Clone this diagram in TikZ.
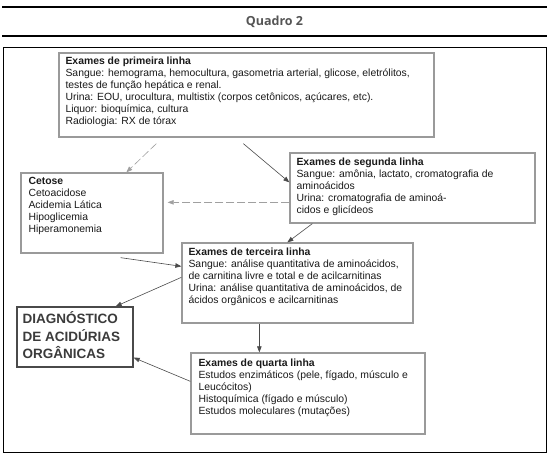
\documentclass[tikz,border=0pt]{standalone}
\usepackage{fontspec}
\setmainfont{Liberation Sans}
\newfontfamily\headfont{Open Sans}
\usepackage{tikz}
\usetikzlibrary{arrows.meta, positioning, calc}
\definecolor{darktext}{HTML}{1A1A1A}
\definecolor{headgray}{HTML}{555555}
\definecolor{boxline}{HTML}{9A9A9A}
\definecolor{arrowgray}{HTML}{4A4A4A}
\definecolor{dashgray}{HTML}{A0A0A0}

\begin{document}
\begin{tikzpicture}[x=1pt, y=-1pt,
    box/.style={draw=boxline, line width=1.3pt, fill=white, minimum width=#1, inner sep=0pt},
    txt/.style={anchor=north west, inner sep=0pt, align=left, text=darktext, font=\fontsize{10.4}{12}\selectfont},
    arr/.style={-{Triangle[length=6pt, width=4.5pt]}, line width=0.6pt, arrowgray},
    darr/.style={-{Triangle[length=6pt, width=4.5pt]}, line width=0.6pt, dashgray, dash pattern=on 8pt off 3pt}
]
    \useasboundingbox (0,0) rectangle (549,458);
    % header
    \draw[line width=1.8pt] (2,7) -- (547,7);
    \node[text=headgray, font=\headfont\bfseries\fontsize{12.5}{14}\selectfont] (head) at (274.5,22) {Quadro 2};
    \draw[line width=1.8pt] (2,36) -- (547,36);
    \draw[line width=1pt] (3,47) rectangle (546,452);

    % boxes
    \node[box=375pt, minimum height=84pt] (prim) at (246.5,95) {};
    \node[txt] (primtxt) at ([shift={(7pt,-4pt)}]prim.north west)
        {\textbf{Exames de primeira linha}\\
         Sangue: hemograma, hemocultura, gasometria arterial, glicose, eletrólitos,\\
         testes de função hepática e renal.\\
         Urina: EOU, urocultura, multistix (corpos cetônicos, açúcares, etc).\\
         Liquor: bioquímica, cultura\\
         Radiologia: RX de tórax};

    \node[box=142pt, minimum height=80pt] (cetose) at (92,213) {};
    \node[txt] (cetosetxt) at ([shift={(8pt,-5pt)}]cetose.north west)
        {\textbf{Cetose}\\ Cetoacidose\\ Acidemia Lática\\ Hipoglicemia\\ Hiperamonemia};

    \node[box=245pt, minimum height=70pt] (seg) at (412.5,188) {};
    \node[txt] (segtxt) at ([shift={(7pt,-5pt)}]seg.north west)
        {\textbf{Exames de segunda linha}\\
         Sangue: amônia, lactato, cromatografia de\\
         aminoácidos\\
         Urina: cromatografia de aminoá-\\
         cidos e glicídeos};

    \node[box=231pt, minimum height=80pt] (terc) at (297.5,283) {};
    \node[txt] (terctxt) at ([shift={(7pt,-5pt)}]terc.north west)
        {\textbf{Exames de terceira linha}\\
         Sangue: análise quantitativa de aminoácidos,\\
         de carnitina livre e total e de acilcarnitinas\\
         Urina: análise quantitativa de aminoácidos, de\\
         ácidos orgânicos e acilcarnitinas};

    \node[box=116pt, minimum height=60pt, draw=arrowgray] (diag) at (75,337) {};
    \node[txt, font=\bfseries\fontsize{13.5}{17.5}\selectfont, text=headgray!70!black] (diagtxt)
        at ([shift={(6pt,-5pt)}]diag.north west)
        {DIAGNÓSTICO\\ DE ACIDÚRIAS\\ ORGÂNICAS};

    \node[box=234pt, minimum height=81pt] (quarta) at (308,393.5) {};
    \node[txt] (quartatxt) at ([shift={(8pt,-6pt)}]quarta.north west)
        {\textbf{Exames de quarta linha}\\
         Estudos enzimáticos (pele, fígado, músculo e\\
         Leucócitos)\\
         Histoquímica (fígado e músculo)\\
         Estudos moleculares (mutações)};

    % connectors
    \draw[darr] ([xshift=98pt, yshift=-6pt]prim.south west) -- ([xshift=106pt]cetose.north west);
    \draw[arr] ([xshift=185pt, yshift=-6pt]prim.south west) -- ([yshift=-30pt]seg.north west);
    \draw[darr] ([yshift=-50pt]seg.north west) -- ([xshift=4pt, yshift=-30pt]cetose.north east);
    \draw[arr] ([xshift=23pt]seg.south west) -- ([xshift=106pt]terc.north west);
    \draw[arr] ([xshift=-43pt, yshift=-4pt]cetose.south east) -- ([yshift=-24pt]terc.north west);
    \draw[arr] ([yshift=-35pt]terc.north west) -- ([xshift=-18pt]diag.north east);
    \draw[arr] ([xshift=78pt]terc.south west) -- ([xshift=69pt]quarta.north west);
    \draw[arr] ([yshift=-29pt]quarta.north west) -- ([yshift=10pt]diag.south east);
\end{tikzpicture}
\end{document}
